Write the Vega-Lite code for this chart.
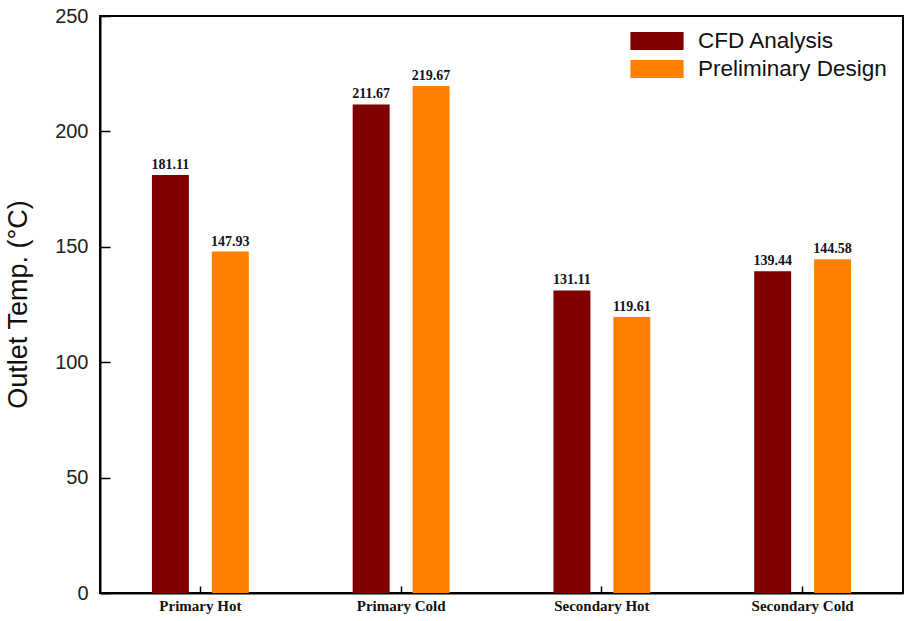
{
  "$schema": "https://vega.github.io/schema/vega-lite/v6.json",
  "width": 803,
  "height": 577,
  "autosize": {"type": "none"},
  "padding": {"left": 100, "top": 16, "right": 7, "bottom": 28},
  "background": "white",
  "config": {
    "view": {"stroke": "black", "strokeWidth": 2},
    "font": "Liberation Sans"
  },
  "data": {
    "values": [
      {"category": "Primary Hot", "series": "CFD Analysis", "value": 181.11},
      {"category": "Primary Hot", "series": "Preliminary Design", "value": 147.93},
      {"category": "Primary Cold", "series": "CFD Analysis", "value": 211.67},
      {"category": "Primary Cold", "series": "Preliminary Design", "value": 219.67},
      {"category": "Secondary Hot", "series": "CFD Analysis", "value": 131.11},
      {"category": "Secondary Hot", "series": "Preliminary Design", "value": 119.61},
      {"category": "Secondary Cold", "series": "CFD Analysis", "value": 139.44},
      {"category": "Secondary Cold", "series": "Preliminary Design", "value": 144.58}
    ]
  },
  "encoding": {
    "x": {
      "field": "category", "type": "nominal",
      "sort": ["Primary Hot", "Primary Cold", "Secondary Hot", "Secondary Cold"],
      "scale": {"paddingInner": 0, "paddingOuter": 0},
      "axis": {
        "title": null, "labelAngle": 0, "labelFont": "Liberation Serif", "labelFontWeight": "bold",
        "labelFontSize": 15, "labelColor": "#111", "tickSize": -7, "tickColor": "black", "tickWidth": 1.5,
        "domainColor": "black", "domainWidth": 2, "labelPadding": 12
      }
    },
    "xOffset": {
      "field": "series", "type": "nominal",
      "sort": ["CFD Analysis", "Preliminary Design"],
      "scale": {"paddingInner": 0.383, "paddingOuter": 0.867}
    },
    "y": {
      "field": "value", "type": "quantitative",
      "scale": {"domain": [0, 250], "nice": false},
      "axis": {
        "title": "Outlet Temp. (°C)", "titleFont": "Liberation Sans", "titleFontSize": 27, "titleFontWeight": "normal",
        "titleColor": "#111", "titleX": -82, "titleY": 288, "titleAngle": -90, "titleAlign": "center", "titleBaseline": "middle",
        "values": [0, 50, 100, 150, 200, 250], "grid": false,
        "labelFont": "Liberation Sans", "labelFontSize": 20, "labelColor": "#222",
        "tickSize": -10, "tickColor": "black", "tickWidth": 1.5, "labelPadding": 22,
        "domainColor": "black", "domainWidth": 2
      }
    }
  },
  "layer": [
    {
      "mark": {"type": "bar"},
      "encoding": {
        "color": {
          "field": "series", "type": "nominal",
          "sort": ["CFD Analysis", "Preliminary Design"],
          "scale": {"domain": ["CFD Analysis", "Preliminary Design"], "range": ["#800000", "#FF8000"]},
          "legend": {
            "title": null, "orient": "none", "legendX": 543, "legendY": 11,
            "symbolType": "M-1.9,-0.64H1.9V0.64H-1.9Z", "symbolSize": 784, "symbolStrokeWidth": 0,
            "labelFont": "Liberation Sans", "labelFontSize": 22.5, "labelColor": "#111", "labelLimit": 400,
            "labelOffset": 27, "rowPadding": 2
          }
        }
      }
    },
    {
      "mark": {"type": "text", "baseline": "bottom", "dy": -3, "font": "Liberation Serif", "fontWeight": "bold", "fontSize": 14, "color": "#111122"},
      "encoding": {
        "text": {"field": "value", "type": "quantitative", "format": ".2f"}
      }
    }
  ]
}
